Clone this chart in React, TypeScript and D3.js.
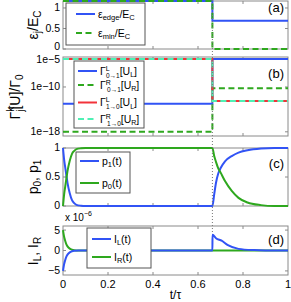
import * as d3 from 'd3';

// step curves (a), (b): switch at t = 0.664
const stepT = [0, 0.664, 0.664, 1];
const epsEdge = [1.17, 1.17, 0.69, 0.69];
const epsMin = [1.17, 1.17, 0, 0];

const gammaL01 = [1e-13, 1e-13, 1e-5, 1e-5];
const gammaR01 = [1e-18, 1e-18, 6e-11, 6e-11];
const gammaL10 = [1e-5, 1e-5, 3e-13, 3e-13];
const gammaR10 = [1e-5, 1e-5, 3e-13, 3e-13];

// (c) occupation probabilities
const pT = [0, 0.005, 0.01, 0.016, 0.02, 0.03, 0.04, 0.05, 0.06, 0.08, 0.1, 0.664,
  0.672, 0.68, 0.69, 0.7, 0.72, 0.75, 0.78, 0.82, 0.88, 0.94, 1];
const p1 = [1, 0.8, 0.66, 0.5, 0.4, 0.22, 0.1, 0.05, 0.02, 0.005, 0, 0,
  0.2, 0.4, 0.56, 0.65, 0.77, 0.86, 0.92, 0.96, 0.99, 1, 1];
const p0 = [0, 0.2, 0.34, 0.5, 0.6, 0.78, 0.9, 0.95, 0.98, 0.995, 1, 1,
  0.86, 0.76, 0.65, 0.58, 0.43, 0.26, 0.14, 0.06, 0.015, 0, 0];

// (d) currents, units of 1e-6
const iT = [0, 0.004, 0.009, 0.015, 0.02, 0.03, 0.04, 0.05, 0.07, 0.1, 0.664,
  0.6645, 0.68, 0.705, 0.733, 0.78, 0.85, 0.9, 1];
const iL = [-5, -3.6, -2.5, -1.5, -1.0, -0.45, -0.2, -0.08, -0.02, 0, 0,
  3.85, 3.0, 2.4, 1.3, 0.4, 0.1, 0.03, 0];
const iR = [5, 3.6, 2.5, 1.5, 1.0, 0.45, 0.2, 0.08, 0.02, 0, 0,
  0, 0, 0, 0, 0, 0, 0, 0];

const xTicks = [0, 0.2, 0.4, 0.6, 0.8, 1];
const xTickLabels = ['0', '0.2', '0.4', '0.6', '0.8', '1'];
const tSwitch = 0.664;

const BLUE = '#3153f5';
const GREEN = '#2ea81e';
const RED = '#f2333a';
const CYAN = '#4ff0b4';
const FRAME = '#8a8a8a';
const FONT = 'Liberation Sans, Arial, sans-serif';

const L = 63, R = 288;
const x = d3.scaleLinear().domain([0, 1]).range([L, R]);

type Ser = { t: number[]; v: number[]; color: string; dash?: string; curve?: d3.CurveFactory };

function Frame({ top, bottom, y, yTicks, yLabels, nudge = [] }: any) {
  return (
    <g>
      <rect x={L} y={top} width={R - L} height={bottom - top} fill="white" stroke={FRAME} strokeWidth={1} />
      {xTicks.slice(1, -1).map(t => (
        <g key={t} stroke={FRAME}>
          <line x1={x(t)} x2={x(t)} y1={bottom} y2={bottom - 3} />
          <line x1={x(t)} x2={x(t)} y1={top} y2={top + 3} />
        </g>
      ))}
      {yTicks.map((v: number, i: number) => (
        <g key={i}>
          <line x1={L} x2={L + 3} y1={y(v)} y2={y(v)} stroke={FRAME} />
          <line x1={R} x2={R - 3} y1={y(v)} y2={y(v)} stroke={FRAME} />
          <text x={L - 3} y={y(v) + (nudge[i] || 0)} dy="0.33em" textAnchor="end" fontSize={10.5}>{yLabels[i]}</text>
        </g>
      ))}
    </g>
  );
}

function Lines({ series, y }: { series: Ser[]; y: any }) {
  return (
    <g>
      {series.map((s, i) => {
        const gen = d3.line<number>()
          .x((_, k) => x(s.t[k]))
          .y(d => y(d))
          .curve(s.curve || d3.curveLinear);
        return <path key={i} d={gen(s.v) || ''} fill="none" stroke={s.color} strokeWidth={2}
          strokeDasharray={s.dash} />;
      })}
    </g>
  );
}

function LegendBox({ x0, y0, w, h, items, lx }: any) {
  return (
    <g>
      <rect x={x0} y={y0} width={w} height={h} fill="white" stroke="#555" strokeWidth={1} />
      {items.map((it: any, i: number) => (
        <g key={i}>
          <line x1={lx} x2={lx + 19} y1={it.y} y2={it.y} stroke={it.color} strokeWidth={2} strokeDasharray={it.dash} />
          <text x={lx + 22} y={it.y} dy="0.35em" fontSize={10.5}>{it.label}</text>
        </g>
      ))}
    </g>
  );
}

const sub = (s: string, fs = 7.5) => [
  <tspan key="a" baselineShift="-30%" fontSize={fs}>{s}</tspan>,
];

export default function App() {
  const ya = d3.scaleLinear().domain([0, 1.17]).range([49, 1]);
  const yb = d3.scaleLog().domain([Math.pow(10, -18.75), Math.pow(10, -4.65)]).range([136, 57]);
  const yc = d3.scaleLinear().domain([0, 1]).range([206, 148]);
  const yd = d3.scaleLinear().domain([-6, 6]).range([275, 226]);
  const mono = d3.curveMonotoneX;
  const dash = '6,3.5';

  const gLabel = (sup: string, s: string, u: string) => (
    <>
      Γ
      <tspan fontSize={7} dy={-4}>{sup}</tspan>
      <tspan fontSize={6.5} dx={-3.8} dy={7}>{s}</tspan>
      <tspan fontSize={10.5} dy={-3}>[U</tspan>
      <tspan fontSize={7} dy={2.5}>{u}</tspan>
      <tspan fontSize={10.5} dy={-2.5}>]</tspan>
    </>
  );

  return (
    <svg width={291} height={302} style={{ position: 'absolute', left: 0, top: 0 }} fontFamily={FONT}>
      <rect width={291} height={302} fill="white" />

      {/* (a) */}
      <Frame top={1} bottom={49} y={ya} yTicks={[0, 0.5, 1]} yLabels={['0', '0.5', '1']} nudge={[-2, 0, 0]} />
      <Lines y={ya} series={[
        { t: stepT, v: epsEdge, color: BLUE },
        { t: stepT, v: epsMin, color: GREEN, dash },
      ]} />
      <LegendBox x0={66} y0={3} w={79} h={42} lx={76} items={[
        { y: 14, color: BLUE, label: <>ε{sub('edge')}/E{sub('C')}</> },
        { y: 33, color: GREEN, dash, label: <>ε{sub('min')}/E{sub('C')}</> },
      ]} />
      <text x={284} y={12} textAnchor="end" fontSize={13}>(a)</text>
      <text transform="translate(38,25) rotate(-90)" textAnchor="middle" fontSize={14}>
        ε<tspan baselineShift="-30%" fontSize={10}>j</tspan>/E<tspan baselineShift="-30%" fontSize={10}>C</tspan>
      </text>

      {/* (b) */}
      <Frame top={57} bottom={136} y={yb} yTicks={[1e-5, 1e-10, 1e-18]} yLabels={['1e−5', '1e−10', '1e−18']} nudge={[1, 0, 0]} />
      <Lines y={yb} series={[
        { t: stepT, v: gammaL01, color: BLUE },
        { t: stepT, v: gammaR01, color: GREEN, dash },
        { t: stepT, v: gammaL10, color: RED },
        { t: stepT, v: gammaR10, color: CYAN, dash },
      ]} />
      <LegendBox x0={74} y0={61} w={70} h={67} lx={78} items={[
        { y: 71, color: BLUE, label: gLabel('L', '0→1', 'L') },
        { y: 85, color: GREEN, dash, label: gLabel('R', '0→1', 'R') },
        { y: 102.5, color: RED, label: gLabel('L', '1→0', 'L') },
        { y: 119, color: CYAN, dash, label: gLabel('R', '1→0', 'R') },
      ]} />
      <text x={284} y={78} textAnchor="end" fontSize={13}>(b)</text>
      <text transform="translate(20,97) rotate(-90)" textAnchor="middle" fontSize={14}>
        Γ<tspan fontSize={10} dy={-6}>k</tspan><tspan fontSize={10} dx={-5} dy={10}>j</tspan>
        <tspan dy={-4}>[U]/Γ</tspan><tspan baselineShift="-30%" fontSize={10}>0</tspan>
      </text>

      {/* (c) */}
      <Frame top={148} bottom={206} y={yc} yTicks={[0, 0.5, 1]} yLabels={['0', '0.5', '1']} />
      <Lines y={yc} series={[
        { t: pT, v: p1, color: BLUE, curve: mono },
        { t: pT, v: p0, color: GREEN, curve: mono },
      ]} />
      <LegendBox x0={76} y0={152} w={54} h={41} lx={80} items={[
        { y: 161, color: BLUE, label: <>p{sub('1')}(t)</> },
        { y: 183, color: GREEN, label: <>p{sub('0')}(t)</> },
      ]} />
      <text x={284} y={168} textAnchor="end" fontSize={13}>(c)</text>
      <text transform="translate(38,177) rotate(-90)" textAnchor="middle" fontSize={14}>
        p<tspan baselineShift="-30%" fontSize={10}>0</tspan>, p<tspan baselineShift="-30%" fontSize={10}>1</tspan>
      </text>

      {/* (d) */}
      <Frame top={226} bottom={275} y={yd} yTicks={[-5, 0, 5]} yLabels={['−5', '0', '5']} />
      <Lines y={yd} series={[
        { t: iT, v: iR, color: GREEN, curve: mono },
        { t: iT, v: iL, color: BLUE, curve: mono },
      ]} />
      <LegendBox x0={87} y0={228} w={64} h={40} lx={92} items={[
        { y: 239, color: BLUE, label: <>I{sub('L')}(t)</> },
        { y: 257, color: GREEN, label: <>I{sub('R')}(t)</> },
      ]} />
      <text x={284} y={244} textAnchor="end" fontSize={13}>(d)</text>
      <text transform="translate(38,251) rotate(-90)" textAnchor="middle" fontSize={14}>
        I<tspan baselineShift="-30%" fontSize={10}>L</tspan>, I<tspan baselineShift="-30%" fontSize={10}>R</tspan>
      </text>
      <text x={65} y={221} fontSize={10}>x 10<tspan fontSize={7} dy={-5}>−6</tspan></text>

      {/* x axis */}
      {xTicks.map((t, i) => (
        <text key={t} x={x(t)} y={288} textAnchor="middle" fontSize={11}>{xTickLabels[i]}</text>
      ))}
      <text x={x(0.5)} y={299} textAnchor="middle" fontSize={12}>t/τ</text>

      {/* switching time */}
      <line x1={x(tSwitch)} x2={x(tSwitch)} y1={0} y2={232} stroke="#777" strokeWidth={1} strokeDasharray="1,2" />
    </svg>
  );
}
